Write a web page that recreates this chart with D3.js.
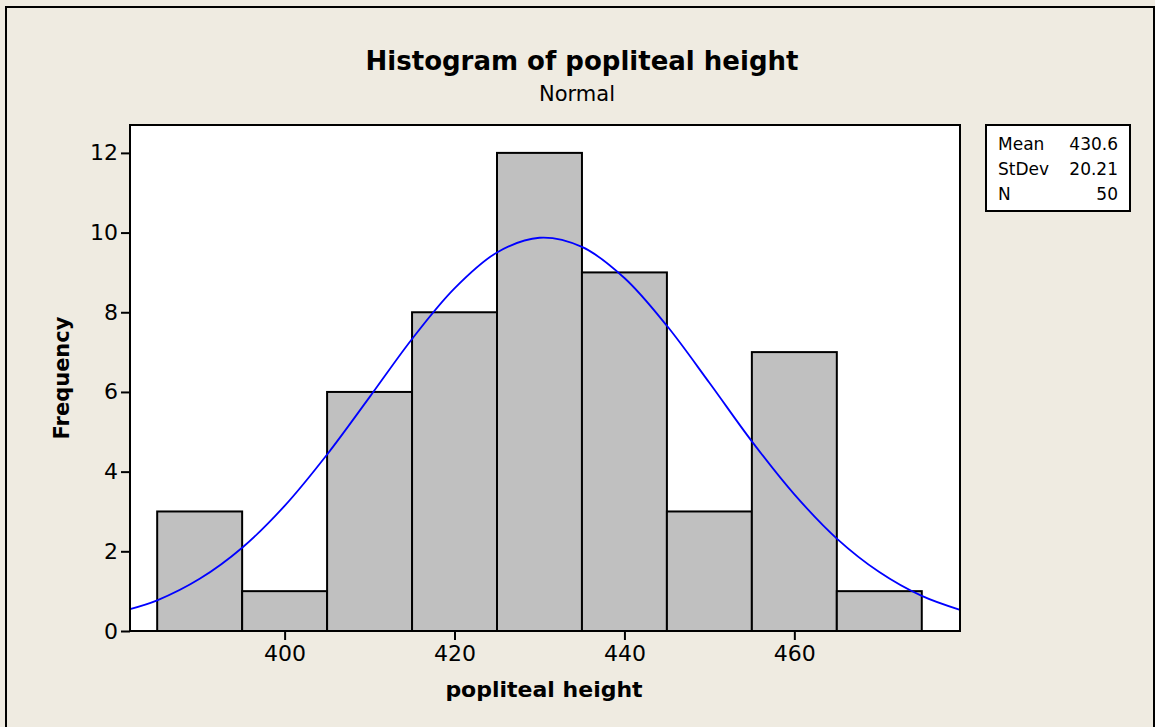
<!DOCTYPE html>
<html>
<head>
<meta charset="utf-8">
<script src="https://cdn.jsdelivr.net/npm/d3@7.9.0/dist/d3.min.js"></script>
<style>
  html, body { margin: 0; padding: 0; background: #efebe1; }
  svg { display: block; font-family: "DejaVu Sans", Verdana, sans-serif; }
</style>
</head>
<body>
<div id="chart"></div>
<script>
// histogram bins (lower edges) and counts
const binStarts = [385, 395, 405, 415, 425, 435, 445, 455, 465];
const binWidth = 10;
const counts = [3, 1, 6, 8, 12, 9, 3, 7, 1];

// fitted normal curve
const curveX = [381.8, 385, 390, 395, 400, 405, 410, 415, 420, 425, 430, 435, 440, 445, 450, 455, 460, 465, 470, 475, 479.5];
const curveY = [0.55, 0.77, 1.31, 2.09, 3.14, 4.43, 5.87, 7.33, 8.6, 9.5, 9.87, 9.64, 8.86, 7.66, 6.23, 4.76, 3.43, 2.32, 1.48, 0.88, 0.53];

const xTicks = [400, 420, 440, 460];
const yTicks = [0, 2, 4, 6, 8, 10, 12];

const statLabels = ['Mean', 'StDev', 'N'];
const statValues = ['430.6', '20.21', '50'];

const width = 1155;
const height = 727;
const plot = { left: 130, right: 960, top: 125, bottom: 631 };

const x = d3.scaleLinear().domain([381.8, 479.5]).range([plot.left, plot.right]);
const y = d3.scaleLinear().domain([0, 12.7]).range([plot.bottom, plot.top]);

const svg = d3.select('#chart').append('svg')
  .attr('width', width)
  .attr('height', height);

svg.append('rect')
  .attr('x', 6).attr('y', 7)
  .attr('width', 1148).attr('height', 740)
  .attr('fill', '#efebe1')
  .attr('stroke', '#000')
  .attr('stroke-width', 2);

svg.append('rect')
  .attr('x', plot.left).attr('y', plot.top)
  .attr('width', plot.right - plot.left)
  .attr('height', plot.bottom - plot.top)
  .attr('fill', '#fff');

const bars = binStarts.map((start, i) => ({ start, count: counts[i] }));

svg.append('g')
  .selectAll('rect')
  .data(bars)
  .join('rect')
  .attr('x', (d) => x(d.start))
  .attr('y', (d) => y(d.count))
  .attr('width', (d) => x(d.start + binWidth) - x(d.start))
  .attr('height', (d) => y(0) - y(d.count))
  .attr('fill', '#c0c0c0')
  .attr('stroke', '#000')
  .attr('stroke-width', 2);

const line = d3.line()
  .x((d) => x(d[0]))
  .y((d) => y(d[1]))
  .curve(d3.curveCatmullRom);

svg.append('path')
  .datum(d3.zip(curveX, curveY))
  .attr('fill', 'none')
  .attr('stroke', '#0000ff')
  .attr('stroke-width', 1.8)
  .attr('d', line);

svg.append('rect')
  .attr('x', plot.left).attr('y', plot.top)
  .attr('width', plot.right - plot.left)
  .attr('height', plot.bottom - plot.top)
  .attr('fill', 'none')
  .attr('stroke', '#000')
  .attr('stroke-width', 2);

const xAxis = svg.append('g')
  .attr('transform', `translate(0, ${plot.bottom})`)
  .call(d3.axisBottom(x).tickValues(xTicks).tickSize(9).tickPadding(5).tickFormat(d3.format('d')));

const yAxis = svg.append('g')
  .attr('transform', `translate(${plot.left}, 0)`)
  .call(d3.axisLeft(y).tickValues(yTicks).tickSize(9).tickPadding(3).tickFormat(d3.format('d')));

for (const ax of [xAxis, yAxis]) {
  ax.select('.domain').remove();
  ax.selectAll('.tick line').attr('stroke', '#000').attr('stroke-width', 2);
  ax.selectAll('.tick text')
    .attr('fill', '#000')
    .style('font-family', '"DejaVu Sans", Verdana, sans-serif')
    .style('font-size', '22px');
}

svg.append('text')
  .attr('x', 582).attr('y', 70)
  .attr('text-anchor', 'middle')
  .style('font-weight', 'bold')
  .style('font-size', '26px')
  .text('Histogram of popliteal height');

svg.append('text')
  .attr('x', 577).attr('y', 101)
  .attr('text-anchor', 'middle')
  .style('font-size', '21px')
  .text('Normal');

svg.append('text')
  .attr('x', 544).attr('y', 697)
  .attr('text-anchor', 'middle')
  .style('font-weight', 'bold')
  .style('font-size', '22px')
  .text('popliteal height');

svg.append('text')
  .attr('transform', 'translate(69, 378) rotate(-90)')
  .attr('text-anchor', 'middle')
  .style('font-weight', 'bold')
  .style('font-size', '21px')
  .text('Frequency');

const legend = svg.append('g');
legend.append('rect')
  .attr('x', 986).attr('y', 125)
  .attr('width', 144).attr('height', 86)
  .attr('fill', '#fff')
  .attr('stroke', '#000')
  .attr('stroke-width', 2);

legend.selectAll('text.lab')
  .data(statLabels)
  .join('text')
  .attr('class', 'lab')
  .attr('x', 998)
  .attr('y', (d, i) => 150 + i * 25)
  .style('font-size', '17px')
  .text((d) => d);

legend.selectAll('text.val')
  .data(statValues)
  .join('text')
  .attr('class', 'val')
  .attr('x', 1118)
  .attr('y', (d, i) => 150 + i * 25)
  .attr('text-anchor', 'end')
  .style('font-size', '17px')
  .text((d) => d);
</script>
</body>
</html>
